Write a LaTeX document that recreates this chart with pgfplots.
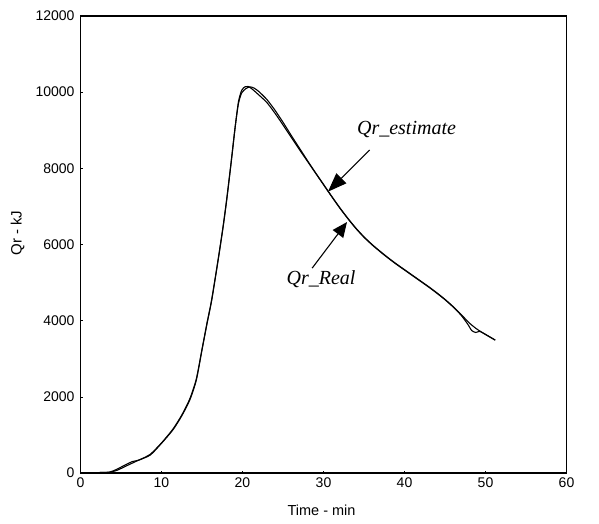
\documentclass[border=0pt]{standalone}
\usepackage{fontspec}
\setmainfont{Liberation Sans}
\newfontfamily\annfont{Liberation Serif}
\usepackage{pgfplots}
\pgfplotsset{compat=1.18}
\usetikzlibrary{arrows.meta}
\begin{document}
\begin{tikzpicture}
\begin{axis}[
  scale only axis,
  width=486pt, height=457pt,
  xmin=0, xmax=60, ymin=0, ymax=12000,
  xtick={0,10,...,60},
  ytick={0,2000,...,12000},
  scaled y ticks=false,
  /pgf/number format/assume math mode=true,
  /pgf/number format/fixed,
  /pgf/number format/1000 sep={},
  tick label style={font=\fontsize{14}{16}\selectfont},
  yticklabel style={xshift=-2.5pt},
  xticklabel style={yshift=-1pt},
  xtick pos=bottom, ytick pos=left,
  tick align=inside,
  major tick length=2.5pt,
  tick style={black, line width=0.6pt},
  axis line style={black, line width=1.2pt},
  xlabel={Time - min},
  ylabel={Qr - kJ},
  every axis x label/.style={at={(axis description cs:0.496,0)}, yshift=-37pt, anchor=center, font=\fontsize{14.5}{16}\selectfont},
  every axis y label/.style={at={(axis description cs:0,0.525)}, xshift=-63pt, rotate=90, anchor=center, font=\fontsize{15}{17}\selectfont},
]
% Qr_Real
\addplot[black, line width=1.1pt, smooth, tension=0.4] coordinates {
(0,0) (1,5) (2,10) (3,15) (3.6,20) (4.5,70) (5.7,190) (7,320) (8.6,470) (10,780)
(11.4,1130) (12.5,1500) (13.5,1920) (14.3,2440) (15,3230) (15.6,3900) (16.2,4540)
(17,5600) (17.6,6450) (18.05,7170) (18.6,8150) (19.1,9090) (19.5,9750) (19.9,10050)
(20.3,10140) (20.7,10150) (21.2,10080) (22,9930) (23,9730) (24,9450) (25,9140)
(26,8820) (27,8500) (28,8190) (29,7880) (30,7570) (31,7260) (32,6960) (33,6680)
(34,6420) (35,6190) (36,5990) (37,5810) (38,5640) (39,5480) (40,5330) (41,5180)
(42,5030) (43,4880) (44,4720) (45,4550) (46,4360) (47,4140) (47.8,3910) (48.3,3740)
(48.8,3690) (49.3,3720) (50,3640) (51.2,3490)
};
% Qr_estimate
\addplot[black, line width=1.1pt, smooth, tension=0.4] coordinates {
(0,0) (2,10) (3.6,25) (4.5,100) (5.5,210) (6.4,300) (7.2,340) (8.6,490) (10,790)
(11.4,1150) (12.5,1520) (13.5,1950) (14.3,2470) (15,3250) (15.6,3920) (16.2,4560)
(17,5620) (17.6,6470) (18.05,7190) (18.6,8170) (19.1,9100) (19.5,9700) (19.9,9980)
(20.4,10090) (20.9,10140) (21.4,10110) (22,10020) (23,9810) (24,9530) (25,9210)
(26,8870) (27,8540) (28,8210) (29,7890) (30,7580) (31,7270) (32,6970) (33,6690)
(34,6430) (35,6200) (36,6000) (37,5820) (38,5650) (39,5490) (40,5340) (41,5190)
(42,5040) (43,4890) (44,4730) (45,4560) (46,4370) (47,4160) (48,3940) (48.8,3800)
(49.5,3700) (50.3,3600) (51.2,3490)
};
\node[font=\annfont\itshape\fontsize{20}{22}\selectfont] at (axis cs:40.25,9020) {Qr\_estimate};
\node[font=\annfont\itshape\fontsize{20}{22}\selectfont] at (axis cs:29.7,5100) {Qr\_Real};
\draw[black, line width=1.1pt, -{Triangle[length=19pt,width=14pt]}] (axis cs:35.7,8482) -- (axis cs:30.55,7387);
\draw[black, line width=1.1pt, -{Triangle[length=15pt,width=13pt]}] (axis cs:28.6,5380) -- (axis cs:32.9,6590);
\end{axis}
\pgfresetboundingbox
\path[use as bounding box] (-80.5pt,-50pt) rectangle (518.5pt,473pt);
\end{tikzpicture}
\end{document}
